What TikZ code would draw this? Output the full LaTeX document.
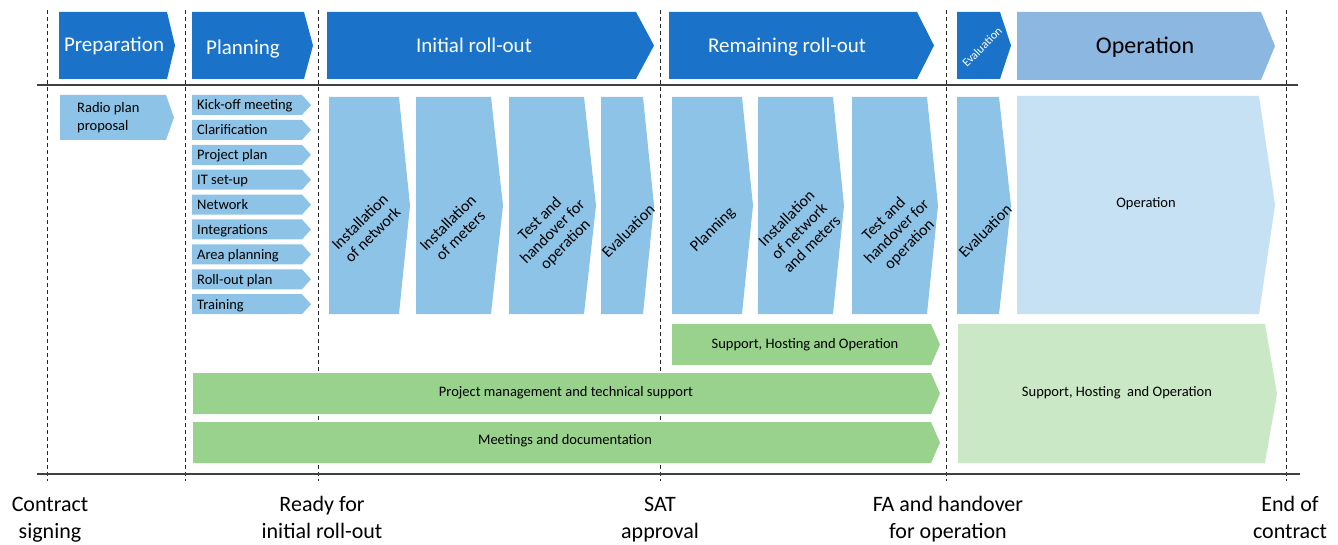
\documentclass[tikz,border=0pt]{standalone}
\usepackage{fontspec}
\setmainfont{Carlito}

\definecolor{phaseblue}{RGB}{26,115,200}
\definecolor{stepblue}{RGB}{141,195,230}
\definecolor{opblue}{RGB}{140,183,225}
\definecolor{oplight}{RGB}{198,225,244}
\definecolor{taskgreen}{RGB}{152,210,140}
\definecolor{greenlight}{RGB}{202,232,197}

% chevron: left, top, flat end, tip, bottom, colour
\newcommand{\chevron}[6]{%
  \fill[#6] (#1,#2) -- (#3,#2) -- (#4,{(#2+#5)/2}) -- (#3,#5) -- (#1,#5) -- cycle;}

\begin{document}
\begin{tikzpicture}[x=1pt,y=-1pt,
    phase/.style={text=white,font=\fontsize{21}{25}\selectfont,anchor=base},
    task/.style={font=\fontsize{14.5}{18}\selectfont},
    diag/.style={font=\fontsize{16}{18}\selectfont,rotate=45,align=center},
    milestone/.style={font=\fontsize{22}{27}\selectfont,align=center,inner sep=0},
    gridline/.style={dash pattern=on 4pt off 3pt,line width=0.9pt,black!85}]

        \useasboundingbox (0,0) rectangle (1338,545);

        \foreach \m/\x in {m1/47,m2/185,m3/318,m4/660,m5/946,m6/1286}
          \draw[gridline] (\x,10) -- (\x,481) coordinate (\m);

        \draw[line width=1.2pt,black!75] (37,85) -- (1298,85);
        \draw[line width=1.2pt,black!75] (37,474) -- (1300,474);

        % phases
        \chevron{59}{12}{167}{175}{79}{phaseblue}
        \chevron{192}{12}{304}{313}{79}{phaseblue}
        \chevron{327}{12}{636}{654}{79}{phaseblue}
        \chevron{669}{12}{917}{934}{79}{phaseblue}
        \chevron{957}{12}{1000}{1011}{79}{phaseblue}
        \chevron{1017}{12}{1261}{1275}{80}{opblue}

        \node[phase] (prep) at (114,52) {Preparation};
        \node[phase] (plan) at (243,55) {Planning};
        \node[phase] (init) at (474,53) {Initial roll-out};
        \node[phase] (rem) at (787,53) {Remaining roll-out};
        \node[phase,text=black,font=\fontsize{24}{28}\selectfont] (oper) at (1145,54) {Operation};
        \node[text=white,font=\fontsize{12}{14}\selectfont,rotate=45] (evaltop) at (982,47) {Evaluation};

        % preparation and planning steps
        \chevron{60}{95}{166}{174}{140}{stepblue}
        \node[task,align=left,anchor=north west,inner sep=0] (radio) at (77,102) {Radio plan\\proposal};

        \foreach \t [count=\i from 0] in {Kick-off meeting,Clarification,Project plan,IT set-up,Network,Integrations,Area planning,Roll-out plan,Training}{
          \pgfmathsetmacro\ytop{95+24.9*\i}
          \chevron{192}{\ytop}{302}{311}{\ytop+20}{stepblue}
          \node[task,anchor=base west,inner sep=0] (sub\i) at (197,\ytop+15) {\t};
        }

        % roll-out steps
        \foreach \a/\b/\c in {329/399/410,416/491/503,509/584/596,601/643/654,672/742/753,758/833/844,852/927/938,957/999/1011}
          \chevron{\a}{97}{\b}{\c}{314}{stepblue};
        \chevron{1017}{96}{1259}{1275}{314}{oplight}

        \node[diag] (instnet) at (366,228) {Installation\\of network};
        \node[diag] (instmet) at (454,229) {Installation\\of meters};
        \node[diag] (testa) at (553,232) {Test and\\handover for\\operation};
        \node[diag] (evala) at (628,231) {Evaluation};
        \node[diag] (planb) at (713,230) {Planning};
        \node[diag] (instboth) at (799,231) {Installation\\ of network\\and meters};
        \node[diag] (testb) at (897,232) {Test and\\handover for\\operation};
        \node[diag] (evalb) at (985,231) {Evaluation};
        \node[task] (operlow) at (1146,204) {Operation};

        % support
        \chevron{672}{324}{931}{940}{365}{taskgreen}
        \chevron{193}{373}{931}{940}{414}{taskgreen}
        \chevron{193}{422}{931}{940}{463}{taskgreen}
        \chevron{958}{324}{1265}{1277}{463}{greenlight}

        \node[task] (shoa) at (805,345) {Support, Hosting and Operation};
        \node[task] (pm) at (566,393) {Project management and technical support};
        \node[task] (meet) at (565,441) {Meetings and documentation};
        \node[task] (shob) at (1117,393) {Support, Hosting~ and Operation};

        % milestones
        \node[milestone] (sign) at (50,520) {\strut Contract\\\strut signing};
        \node[milestone] (ready) at (322,520) {\strut Ready for\\\strut initial roll-out};
        \node[milestone] (sat) at (660,520) {\strut SAT\\\strut approval};
        \node[milestone] (fa) at (948,520) {\strut FA and handover\\\strut for operation};
        \node[milestone] (end) at (1290,520) {\strut End of\\\strut contract};

\end{tikzpicture}
\end{document}
